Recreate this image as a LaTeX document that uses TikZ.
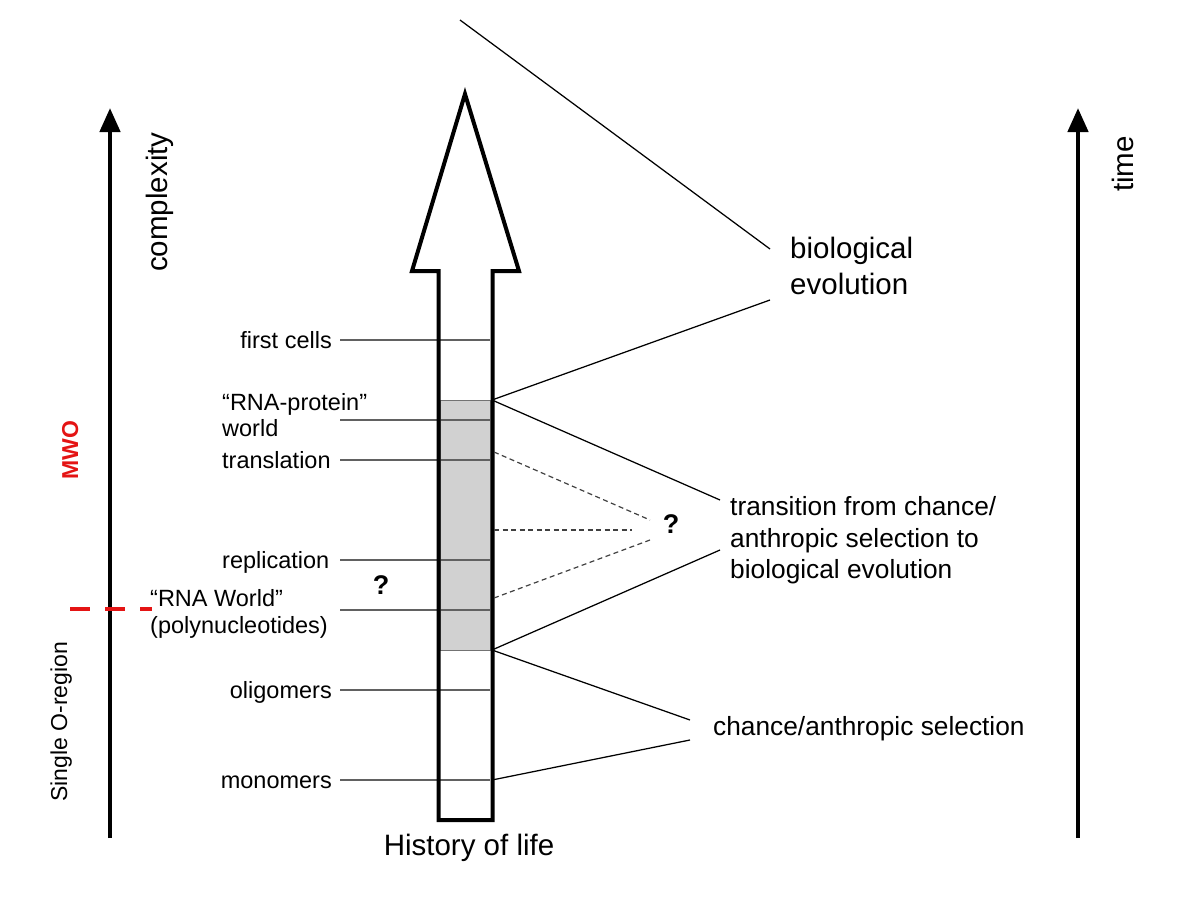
\documentclass[tikz,border=0pt]{standalone}
\usepackage{fontspec}
\setmainfont{Liberation Sans}
\usetikzlibrary{arrows.meta}
\definecolor{mwored}{RGB}{228,20,20}
\begin{document}
\begin{tikzpicture}[x=1pt,y=-1pt,
  lab/.style={font=\fontsize{23.5}{26}\selectfont, inner sep=0pt},
  big/.style={font=\fontsize{29.5}{36}\selectfont, inner sep=0pt},
  mid/.style={font=\fontsize{26.3}{31.5}\selectfont, inner sep=0pt},
  qmark/.style={font=\fontsize{27}{30}\selectfont\bfseries, inner sep=0pt},
  tickline/.style={draw=black!62, line width=2pt},
  conn/.style={draw=black, line width=1.25pt},
  dconn/.style={draw=black!75, line width=1.2pt, dash pattern=on 5pt off 3.5pt},
  axisarrow/.style={line width=4.5pt, -{Triangle[length=24pt,width=20pt]}},
  lifearrow/.style={line width=4pt, line join=miter},
]
\useasboundingbox (0,0) rectangle (1200,900);

% axes
\coordinate (laxb) at (110,838);
\coordinate (laxt) at (110,108);
\coordinate (raxb) at (1078,838);
\coordinate (raxt) at (1078,108);
\draw[axisarrow] (laxb) -- (laxt);
\draw[axisarrow] (raxb) -- (raxt);

\node[big, rotate=90, anchor=base west] (cplx) at (167,272) {complexity};
\node[big, rotate=90, anchor=base west] (time) at (1133,192) {time};
\node[font=\fontsize{23}{26}\selectfont\bfseries, text=mwored, inner sep=0pt, rotate=90, anchor=base west] (mwo) at (78,480) {MWO};
\node[lab, font=\fontsize{23}{26}\selectfont, rotate=90, anchor=base west] (sor) at (67,802) {Single O-region};

% red dashed line
\coordinate (rd1) at (70,609);
\coordinate (rd2) at (152,609);
\draw[mwored, line width=4.5pt, dash pattern=on 20pt off 15pt] (rd1) -- (rd2);

% history-of-life arrow: white body
\path[fill=white] (438.5,820) -- (438.5,271) -- (412,271) -- (465,94) -- (519,271) -- (492.5,271) -- (492.5,820) -- cycle;

% grey band
\node[draw=black!55, line width=1.4pt, fill=black!18, minimum width=50pt, minimum height=250pt, inner sep=0pt, anchor=north west] (band) at (440,400) {};

% label tick lines
\foreach \yy/\nm in {340/fc,420/rp,460/tr,560/re,610/rw,690/ol,780/mo}{
  \coordinate (\nm L) at (340,\yy);
  \coordinate (\nm R) at (490,\yy);
  \draw[tickline] (\nm L) -- (\nm R);
}

% arrow outline
\draw[lifearrow] (438.5,820) -- (438.5,271) -- (412,271) -- (465,94) -- (519,271) -- (492.5,271) -- (492.5,820) -- cycle;

% left labels
\node[lab, anchor=base east] (fcT) at (332,348.5) {first cells};
\node[lab, anchor=base west] (rpT1) at (222,410) {“RNA-protein”};
\node[lab, anchor=base west] (rpT2) at (222,436.5) {world};
\node[lab, anchor=base west] (trT) at (222,468.5) {translation};
\node[lab, anchor=base west] (reT) at (222,568.5) {replication};
\node[lab, anchor=base west] (rwT1) at (150,606.5) {“RNA World”};
\node[lab, anchor=base west] (rwT2) at (150,633) {(polynucleotides)};
\node[lab, anchor=base east] (olT) at (332,698.5) {oligomers};
\node[lab, anchor=base east] (moT) at (332,788.5) {monomers};

\node[qmark] (q1) at (381,585) {?};
\node[qmark] (q2) at (671,524) {?};

\node[big, anchor=base] (hist) at (469,855) {History of life};

% right labels
\node[big, anchor=base west] (be1) at (790,258) {biological};
\node[big, anchor=base west] (be2) at (790,294) {evolution};
\node[mid, anchor=base west] (tr1) at (730,515) {transition from chance/};
\node[mid, anchor=base west] (tr2) at (730,547) {anthropic selection to};
\node[mid, anchor=base west] (tr3) at (730,578) {biological evolution};
\node[mid, anchor=base west] (cas) at (713,735) {chance/anthropic selection};

% connectors
\coordinate (topend) at (460,20);
\coordinate (beA) at (770,249);
\coordinate (beB) at (770,300);
\coordinate (bandTR) at (492,400);
\coordinate (bandBR) at (492,650);
\coordinate (trA) at (720,500);
\coordinate (trB) at (720,550);
\coordinate (caA) at (690,720);
\coordinate (caB) at (690,740);
\coordinate (monoR) at (492,780);
\draw[conn] (topend) -- (beA);
\draw[conn] (bandTR) -- (beB);
\draw[conn] (bandTR) -- (trA);
\draw[conn] (bandBR) -- (trB);
\draw[conn] (bandBR) -- (caA);
\draw[conn] (monoR) -- (caB);

\coordinate (d1a) at (494,452);
\coordinate (d1b) at (650,520);
\coordinate (d2a) at (494,530);
\coordinate (d2b) at (632,530);
\coordinate (d3a) at (494,598);
\coordinate (d3b) at (650,540);
\draw[dconn] (d1a) -- (d1b);
\draw[dconn] (d2a) -- (d2b);
\draw[dconn] (d3a) -- (d3b);
\end{tikzpicture}
\end{document}
